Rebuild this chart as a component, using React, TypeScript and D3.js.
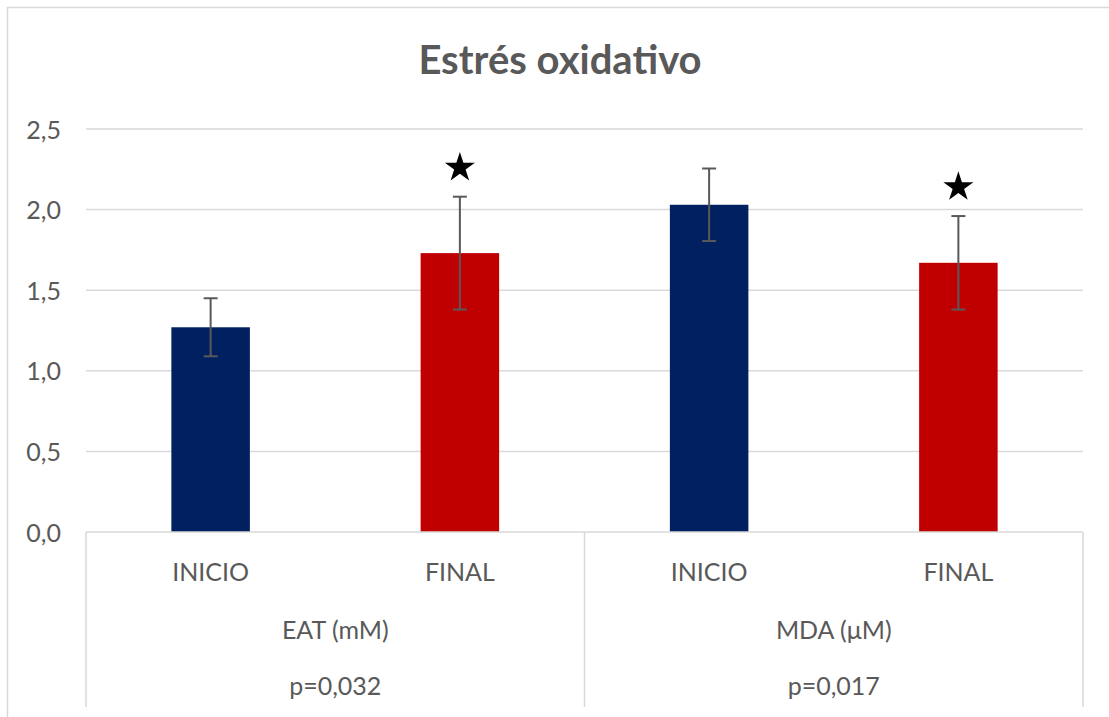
import React from "react";
import * as d3 from "d3";

const categories = ["INICIO", "FINAL", "INICIO", "FINAL"];
const groups = ["EAT (mM)", "MDA (μM)"];
const pValues = ["p=0,032", "p=0,017"];
const means = [1.27, 1.73, 2.03, 1.67];
const errors = [0.18, 0.35, 0.225, 0.29];
const significant = [false, true, false, true];
const barColors = ["#002060", "#C00000", "#002060", "#C00000"];
const yTicks = [0, 0.5, 1.0, 1.5, 2.0, 2.5];

const W = 1109;
const H = 717;
const left = 86;
const right = 1083;
const top = 129;
const bottom = 532;
const axisBottom = 707;
const FONT = "Lato, 'Open Sans', sans-serif";
const TEXT = "#595959";
const GRID = "#d9d9d9";

export default function App() {
  const x = d3
    .scaleBand<number>()
    .domain(d3.range(categories.length))
    .range([left, right])
    .padding(0);
  const xg = d3.scaleBand<string>().domain(groups).range([left, right]).padding(0);
  const y = d3.scaleLinear().domain([0, 2.5]).range([bottom, top]);
  const barW = x.bandwidth() * 0.315;
  const fmt = (v: number) => d3.format(".1f")(v).replace(".", ",");
  const star = d3.symbol().type(d3.symbolStar).size(280)();

  return (
    <div style={{ position: "absolute", left: 0, top: 0 }}>
      <svg width={W} height={H} style={{ display: "block", background: "#fff" }}>
        <line x1={7.5} y1={7} x2={7.5} y2={H} stroke={GRID} strokeWidth={1.5} />
        <line x1={7} y1={7.5} x2={W} y2={7.5} stroke={GRID} strokeWidth={1.5} />
        <text
          x={560}
          y={74}
          textAnchor="middle"
          fontFamily={FONT}
          fontWeight="bold"
          fontSize={40}
          fill={TEXT}
        >
          Estrés oxidativo
        </text>
        {yTicks.map((t) => (
          <g key={t}>
            {t > 0 && (
              <line x1={left} x2={right} y1={y(t)} y2={y(t)} stroke={GRID} strokeWidth={1.5} />
            )}
            <text
              x={61}
              y={y(t) + 9.5}
              textAnchor="end"
              fontFamily={FONT}
              fontSize={25}
              fill={TEXT}
            >
              {fmt(t)}
            </text>
          </g>
        ))}
        {means.map((m, i) => {
          const cx = (x(i) as number) + x.bandwidth() / 2;
          return (
            <rect
              key={"b" + i}
              x={cx - barW / 2}
              y={y(m)}
              width={barW}
              height={y(0) - y(m)}
              fill={barColors[i]}
            />
          );
        })}
        <line x1={left} x2={right} y1={bottom} y2={bottom} stroke={GRID} strokeWidth={1.5} />
        {[left, left + (right - left) / 2, right].map((vx, i) => (
          <line key={"v" + i} x1={vx} x2={vx} y1={bottom} y2={axisBottom} stroke={GRID} strokeWidth={1.5} />
        ))}
        {means.map((m, i) => {
          const cx = (x(i) as number) + x.bandwidth() / 2;
          const hi = y(m + errors[i]);
          const lo = y(m - errors[i]);
          return (
            <g key={"e" + i} stroke="#595959" strokeWidth={2}>
              <line x1={cx} x2={cx} y1={hi} y2={lo} />
              <line x1={cx - 7} x2={cx + 7} y1={hi} y2={hi} />
              <line x1={cx - 7} x2={cx + 7} y1={lo} y2={lo} />
            </g>
          );
        })}
        {means.map((m, i) =>
          significant[i] ? (
            <path
              key={"s" + i}
              d={star as string}
              transform={`translate(${(x(i) as number) + x.bandwidth() / 2}, ${y(m + errors[i]) - 29})`}
              fill="#000"
            />
          ) : null
        )}
        {categories.map((c, i) => (
          <text
            key={"c" + i}
            x={(x(i) as number) + x.bandwidth() / 2}
            y={581}
            textAnchor="middle"
            fontFamily={FONT}
            fontSize={25}
            fill={TEXT}
          >
            {c}
          </text>
        ))}
        {groups.map((g, i) => (
          <g key={"g" + i}>
            <text
              x={(xg(g) as number) + xg.bandwidth() / 2}
              y={639}
              textAnchor="middle"
              fontFamily={FONT}
              fontSize={25}
              fill={TEXT}
            >
              {g}
            </text>
            <text
              x={(xg(g) as number) + xg.bandwidth() / 2}
              y={695}
              textAnchor="middle"
              fontFamily={FONT}
              fontSize={25}
              fill={TEXT}
            >
              {pValues[i]}
            </text>
          </g>
        ))}
      </svg>
    </div>
  );
}
